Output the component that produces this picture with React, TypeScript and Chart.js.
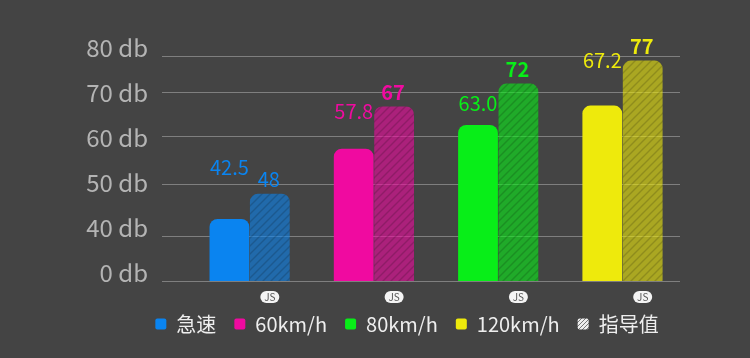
import React, { useEffect, useRef } from 'react';
import { Chart, registerables } from 'chart.js';

Chart.register(...registerables);

// ---- data ----
const categories = ['急速', '60km/h', '80km/h', '120km/h'];
const measured = [42.5, 57.8, 63.0, 67.2];
const guide = [48, 67, 72, 77];
const guideLabel = '指导值';
const axisLabels = ['0 db', '40 db', '50 db', '60 db', '70 db', '80 db'];
const gridValues = [29, 38.6, 50.1, 60.4, 70, 78];
const badgeText = 'JS';

// ---- styles ----
const FONT = "'Noto Sans CJK SC', 'Noto Sans', sans-serif";
const BG = '#444444';
const solidColors = ['#0a84f0', '#f00aa0', '#08ee18', '#eeea0c'];
const measuredLabelLift = [52, 37, 21, 45];
const guideLabelWeight = ['normal', 'bold', 'bold', 'bold'];

function hatch(color: string, alpha: number, stripe: string, size = 8, lw = 1.4) {
  const c = document.createElement('canvas');
  c.width = size;
  c.height = size;
  const g = c.getContext('2d')!;
  g.globalAlpha = alpha;
  g.fillStyle = color;
  g.fillRect(0, 0, size, size);
  g.globalAlpha = 1;
  g.strokeStyle = stripe;
  g.lineWidth = lw;
  g.beginPath();
  g.moveTo(-1, size + 1);
  g.lineTo(size + 1, -1);
  g.moveTo(-1, 1);
  g.lineTo(1, -1);
  g.moveTo(size - 1, size + 1);
  g.lineTo(size + 1, size - 1);
  g.stroke();
  return g.createPattern(c, 'repeat')!;
}

const labelPlugin = {
  id: 'valueLabels',
  afterDatasetsDraw(chart: any) {
    const ctx = chart.ctx;
    ctx.save();
    ctx.textAlign = 'center';
    ctx.textBaseline = 'middle';
    chart.getDatasetMeta(0).data.forEach((el: any, i: number) => {
      ctx.fillStyle = solidColors[i];
      ctx.font = `normal 20px ${FONT}`;
      ctx.fillText(measured[i].toFixed(1), el.x, el.y - measuredLabelLift[i]);
    });
    chart.getDatasetMeta(1).data.forEach((el: any, i: number) => {
      ctx.fillStyle = solidColors[i];
      ctx.font = `${guideLabelWeight[i]} 20px ${FONT}`;
      ctx.fillText(String(guide[i]), el.x - 1, el.y - 14);
    });
    ctx.restore();
  },
  afterDraw(chart: any) {
    const ctx = chart.ctx;
    const area = chart.chartArea;
    ctx.save();
    chart.getDatasetMeta(1).data.forEach((el: any) => {
      const x = el.x;
      const y = area.bottom + 16;
      ctx.fillStyle = '#f4f4f4';
      ctx.beginPath();
      ctx.roundRect(x - 9.5, y - 6, 19, 12, 6);
      ctx.fill();
      ctx.fillStyle = '#555555';
      ctx.font = `10px ${FONT}`;
      ctx.textAlign = 'center';
      ctx.textBaseline = 'middle';
      ctx.fillText(badgeText, x, y + 0.5);
    });
    ctx.restore();
  },
};

export default function App() {
  const ref = useRef<HTMLCanvasElement>(null);

  useEffect(() => {
    if (!ref.current) return;
    Chart.defaults.font.family = FONT;
    const guidePatterns = solidColors.map((c) => hatch(c, 0.6, 'rgba(0,0,0,0.16)'));
    const legendPattern = hatch('#eeeeee', 1, '#777777', 4, 1);

    const chart = new Chart(ref.current, {
      type: 'bar',
      data: {
        datasets: [
          {
            label: '实测',
            data: measured.map((v, i) => ({ x: i, y: v })),
            backgroundColor: solidColors,
            borderRadius: 8,
            borderSkipped: false,
            barPercentage: 0.985,
            categoryPercentage: 0.65,
          },
          {
            label: guideLabel,
            data: guide.map((v, i) => ({ x: i, y: v })),
            backgroundColor: guidePatterns,
            borderRadius: 8,
            borderSkipped: false,
            barPercentage: 0.985,
            categoryPercentage: 0.65,
          },
        ],
      } as any,
      options: {
        animation: false,
        responsive: false,
        events: [],
        layout: { padding: { left: 64, right: 0, top: 56, bottom: 14 } },
        plugins: {
          tooltip: { enabled: false },
          legend: {
            position: 'bottom',
            align: 'center',
            onClick: () => {},
            labels: {
              font: { size: 20, family: FONT },
              color: '#eeeeee',
              boxWidth: 11,
              boxHeight: 11,
              padding: 18,
              useBorderRadius: true,
              borderRadius: 2,
              generateLabels: () => [
                ...categories.map((c, i) => ({
                  text: c,
                  fillStyle: solidColors[i],
                  strokeStyle: 'rgba(0,0,0,0)',
                  lineWidth: 0,
                  hidden: false,
                  fontColor: '#eeeeee',
                  borderRadius: 2,
                  datasetIndex: 0,
                })),
                {
                  text: guideLabel,
                  fillStyle: legendPattern,
                  strokeStyle: 'rgba(0,0,0,0)',
                  lineWidth: 0,
                  hidden: false,
                  fontColor: '#eeeeee',
                  borderRadius: 2,
                  datasetIndex: 1,
                },
              ],
            },
          } as any,
        },
        scales: {
          x: {
            type: 'linear',
            min: -0.705,
            max: 3.4626,
            offset: false,
            grid: { display: false, drawTicks: false },
            border: { display: false },
            ticks: { display: false },
            afterBuildTicks: (s: any) => {
              s.ticks = categories.map((_, i) => ({ value: i }));
            },
            afterFit: (s: any) => {
              s.height = 15;
            },
          },
          y: {
            type: 'linear',
            position: 'right',
            min: 29,
            max: 78,
            grid: { color: '#7f7f7f', lineWidth: 1, drawTicks: false },
            border: { display: false },
            ticks: { display: false },
            afterBuildTicks: (s: any) => {
              s.ticks = gridValues.map((v) => ({ value: v }));
            },
            afterFit: (s: any) => {
              s.width = 70;
            },
          },
          y2: {
            type: 'linear',
            position: 'left',
            min: 0,
            max: 5,
            grid: { display: false, drawTicks: false },
            border: { display: false },
            ticks: {
              stepSize: 1,
              padding: 14,
              labelOffset: -8,
              color: '#b4b4b4',
              font: { size: 24, family: FONT },
              callback: (v: any) => axisLabels[Number(v)] ?? '',
            },
            afterFit: (s: any) => {
              s.width = 98;
            },
          },
        } as any,
      },
      plugins: [labelPlugin],
    });
    return () => chart.destroy();
  }, []);

  return (
    <div style={{ position: 'fixed', left: 0, top: 0, width: 750, height: 358, background: BG }}>
      <canvas ref={ref} width={750} height={358} style={{ display: 'block' }} />
    </div>
  );
}
